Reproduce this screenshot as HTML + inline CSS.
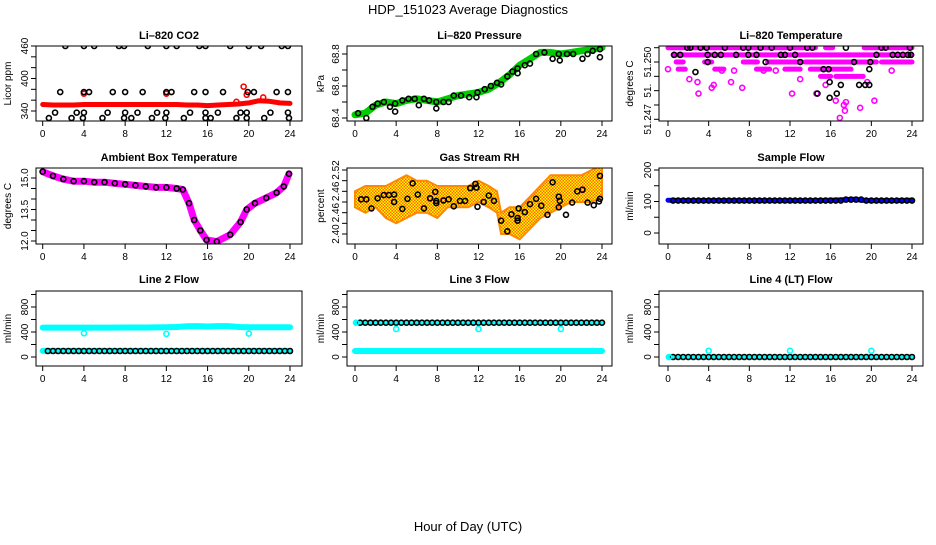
<!DOCTYPE html>
<html><head><meta charset="utf-8">
<style>
html,body{margin:0;padding:0;background:#fff;}
svg text{font-family:"Liberation Sans",sans-serif;}
</style></head>
<body>
<svg id="chart" width="936" height="540" viewBox="0 0 936 540" xmlns="http://www.w3.org/2000/svg">
<text x="468" y="14" text-anchor="middle" font-size="13">HDP_151023  Average Diagnostics</text>
<text x="468" y="531" text-anchor="middle" font-size="13">Hour of Day (UTC)</text>
</svg>
<script>
// ---- x ticks
const xTicks = [0,4,8,12,16,20,24];
// ---- CO2
const co2RedHours = [0,1,2,3,4,5,6,7,8,9,10,11,12,13,14,15,16,17,18,19,20,21,22,23,24];
const co2RedVals = [352,351,351,351,352,352,352,352,352,352,352,352,352,352,351,351,350,351,352,353,355,359,358,355,354];
const co2RedOutX = [4,12,19.5,19.8,21.4,18.8];
const co2RedOutY = [372,372,385,370,365,357];
const co2BlackX = [2.2,4,5,7.4,7.9,10.2,12,13,15.2,15.8,18.2,20,21.2,23.2,23.8,
 1.7,4,4.5,6.8,8,9.7,12,12.5,14.7,15.8,17.5,19.9,20.5,22.7,23.8,
 1.2,3.3,4,6.3,8,9.2,11.1,12,14.3,15.8,17,19.2,19.8,22.1,23.8,
 0.6,2.8,3.9,5.8,7.9,8.6,10.6,11.9,13.7,15.8,16.3,18.8,19.8,21.5,23.9];
const co2BlackY = [460,460,460,460,460,460,460,460,460,460,460,460,460,460,460,
 375,375,375,375,375,375,375,375,375,375,375,375,375,375,375,
 337,337,337,337,337,337,337,337,337,337,337,337,337,337,337,
 327,327,327,327,327,327,327,327,327,327,327,327,327,327,327];
// ---- Pressure
const presHours = [0,1,2,3,4,5,6,7,8,9,10,11,12,13,14,15,16,17,18,19,20,21,22,23,24];
const presVals = [68.42,68.43,68.48,68.50,68.49,68.51,68.52,68.51,68.50,68.52,68.54,68.55,68.56,68.58,68.62,68.67,68.73,68.77,68.81,68.81,68.80,68.81,68.82,68.83,68.84];
const presBlackX = [0.3,1.1,1.7,2.2,2.8,3.4,3.9,3.9,4.6,5.2,5.8,6.2,6.7,7.2,7.9,7.9,8.6,9.1,9.6,10.3,11.1,11.8,11.9,12.6,13.2,13.8,14.2,14.8,15.3,15.8,15.8,16.5,17.0,17.6,18.4,19.2,19.8,19.9,20.6,21.2,22.1,22.6,23.1,23.8,23.8];
const presBlackY = [68.43,68.40,68.47,68.49,68.50,68.47,68.44,68.49,68.51,68.52,68.52,68.48,68.52,68.51,68.46,68.50,68.50,68.50,68.54,68.54,68.53,68.53,68.56,68.58,68.60,68.62,68.61,68.66,68.69,68.71,68.68,68.73,68.74,68.80,68.81,68.77,68.80,68.76,68.80,68.80,68.77,68.80,68.82,68.83,68.78];
// ---- Li-820 temperature
const tempSegStart = [0,15.5,19.3,0.5,0.8,3.6,7.4,9.8,13.5,21,1,4.6,8.7,11.5,14,16.5,15];
const tempSegEnd = [14.5,16.2,24,24,1.5,4.3,8.8,13.2,20.5,24,1.7,5.5,10,13,18,19.2,16];
const tempSegLevel = [51.2495,51.2495,51.2495,51.24925,51.249,51.249,51.249,51.249,51.249,51.249,51.24875,51.24875,51.24875,51.24875,51.24875,51.2485,51.2485];
const tempMagX = [0,2.1,2.9,3.0,4.3,4.5,6.2,7.3,12.2,14.6,15.5,16.5,17.3,17.5,17.4,18.9,20.3,16.9,13,9.4,5.3,6.5,10.6,19.6,22];
const tempMagY = [51.24875,51.2484,51.2483,51.2479,51.2481,51.2482,51.2483,51.2481,51.2479,51.2479,51.2482,51.24765,51.2475,51.2476,51.2473,51.2474,51.24765,51.24705,51.2484,51.2487,51.2487,51.2487,51.2487,51.2483,51.2487];
const tempBlackX = [0.6,1.2,1.9,2.2,3.2,3.8,3.9,3.9,4.6,5.2,5.6,6.7,7.4,7.9,7.9,8.7,9.1,9.6,10.2,11.1,11.5,12,12.5,13,13.7,14.2,14.7,15.3,15.8,15.9,15.9,16.6,17,17.5,18.3,18.8,19.4,19.8,19.8,19.9,20.5,21,21.4,22.1,22.6,23.1,23.6,23.8,23.9,2.7];
const tempBlackY = [51.24925,51.24925,51.2495,51.2495,51.2495,51.2495,51.24925,51.249,51.24925,51.24925,51.2495,51.24925,51.2495,51.2495,51.24925,51.24925,51.2495,51.249,51.2495,51.24925,51.24925,51.2495,51.24925,51.249,51.2495,51.2495,51.2479,51.24875,51.24875,51.24775,51.2483,51.2479,51.2482,51.2495,51.249,51.2482,51.2482,51.2482,51.24875,51.249,51.24925,51.2495,51.2495,51.24925,51.24925,51.24925,51.24925,51.2495,51.24925,51.24865];
// ---- Ambient box temperature
const ambHours = [0,1,2,3,4,5,6,7,8,9,10,11,12,13,13.6,14.2,14.7,15.3,15.9,16.9,18.2,19.2,19.8,20.6,21.7,22.7,23.4,23.9];
const ambVals = [15.3,15.1,14.95,14.85,14.85,14.8,14.8,14.75,14.7,14.65,14.6,14.55,14.55,14.5,14.45,13.8,13.0,12.5,12.05,11.97,12.3,12.9,13.5,13.8,14.05,14.3,14.6,15.2];
// ---- Gas stream RH
const rhHours = [0,1,2,3,4,5,6,7,8,9,10,11,12,13,13.8,14.2,15,16,17,18,19,20,21,22,23,24];
const rhUpper = [2.48,2.49,2.49,2.49,2.50,2.51,2.50,2.50,2.49,2.49,2.49,2.49,2.50,2.49,2.48,2.44,2.45,2.45,2.47,2.49,2.51,2.51,2.51,2.51,2.52,2.53];
const rhLower = [2.45,2.44,2.45,2.43,2.42,2.43,2.44,2.44,2.43,2.45,2.45,2.45,2.46,2.45,2.44,2.40,2.40,2.39,2.41,2.43,2.44,2.45,2.46,2.46,2.46,2.47];
const rhBlackX = [0.6,1.1,1.6,2.2,2.8,3.3,3.8,3.8,4.6,5.1,5.6,6.1,6.7,7.3,7.8,7.9,7.9,8.6,9.1,9.6,10.2,10.7,11.2,11.7,11.8,11.9,12.5,13.0,13.5,14.2,14.8,15.2,15.8,15.8,15.9,16.5,17.0,17.6,18.1,18.7,19.2,19.8,19.8,19.9,20.5,21.1,21.6,22.1,22.6,23.2,23.8,23.8,23.7];
const rhBlackY = [2.465,2.465,2.448,2.467,2.473,2.473,2.474,2.460,2.447,2.466,2.495,2.474,2.448,2.467,2.479,2.458,2.462,2.463,2.465,2.452,2.462,2.462,2.486,2.494,2.487,2.451,2.460,2.472,2.462,2.425,2.405,2.437,2.430,2.425,2.448,2.441,2.456,2.466,2.453,2.436,2.497,2.470,2.450,2.462,2.436,2.459,2.480,2.483,2.459,2.454,2.466,2.509,2.461];
// ---- Flows
const flowHours = [0.5,1,1.5,2,2.5,3,3.5,4,4.5,5,5.5,6,6.5,7,7.5,8,8.5,9,9.5,10,10.5,11,11.5,12,12.5,13,13.5,14,14.5,15,15.5,16,16.5,17,17.5,18,18.5,19,19.5,20,20.5,21,21.5,22,22.5,23,23.5,24];
const sampleHours = [0,2,4,6,8,10,12,14,16,17.5,18.5,19,20,22,24];
const sampleBlue = [104,103,103,103,103,103,103,103,104,106,107,104,103,103,104];
const sampleBlack = [103,103,103,103,103,103,103,103,103,103,103,103,103,103,103,103,103,103,103,103,103,103,103,103,103,103,103,103,103,103,103,103,103,103,106,106,106,106,103,103,103,103,103,103,103,103,103,103];
const line2Hours = [0,2,4,6,8,10,12,13,14,15,16,17,18,19,20,22,24];
const line2CyanHigh = [470,470,470,470,472,472,475,480,492,495,488,494,494,480,476,475,475];
const line2CyanLow = [98,98,98,98,98,98,98,98,98,98,98,98,98,98,98,98,98];
const line2Black = 96;
const line2OutX = [4,12,20];
const line2OutY = [380,370,375];
const line3CyanHours = [0,24];
const line3Cyan = [96,96];
const line3Black = 549;
const line3OutX = [0.1,4,12,20];
const line3OutY = [549,448,448,448];
const line4Cyan = [0,0];
const line4Black = 0;
const line4OutX = [0.1,4,12,20];
const line4OutY = [0,100,100,100];

const svg = document.getElementById('chart');
const NS = 'http://www.w3.org/2000/svg';
function mk(tag, attrs, parent){
  const e = document.createElementNS(NS, tag);
  for (const k in attrs) e.setAttribute(k, attrs[k]);
  (parent||svg).appendChild(e);
  return e;
}
const cols = [{l:36,r:302,x0:42.7,x24:290,yl:11},{l:347,r:612,x0:355,x24:602,yl:324},{l:659,r:923,x0:668,x24:912,yl:633}];
const rows = [{t:46,b:121,title:35},{t:168,b:244,title:157},{t:291,b:366,title:279}];

function panel(ci, ri, name, title, ylab, v0, p0, v1, p1, ticks, labels){
  const c = cols[ci], r = rows[ri];
  const g = mk('g', {});
  
  
  const xs = h => c.x0 + (c.x24 - c.x0) * h / 24;
  const ys = v => p0 + (p1 - p0) * (v - v0) / (v1 - v0);
  const clipId = 'clip' + ci + ri;
  const cp = mk('clipPath', {id: clipId}, g);
  mk('rect', {x:c.l, y:r.t, width:c.r-c.l, height:r.b-r.t}, cp);
  const t = mk('text', {x:(c.l+c.r)/2, y:r.title+4, 'text-anchor':'middle', 'font-size':11, 'font-weight':'bold'}, g);
  t.textContent = title;
  
  
  const cy = (r.t+r.b)/2;
  const yl = mk('text', {x:c.yl, y:cy, 'text-anchor':'middle', 'font-size':10, transform:'rotate(-90 '+c.yl+' '+cy+')'}, g);
  yl.textContent = ylab;
  
  
  // x axis
  const xa = mk('g', {}, g);
  
  
  xTicks.forEach(h => {
    mk('line', {x1:xs(h), x2:xs(h), y1:r.b, y2:r.b+5, stroke:'#000'}, xa);
    const tx = mk('text', {x:xs(h), y:r.b+16, 'text-anchor':'middle', 'font-size':10}, xa);
    tx.textContent = h;
  });
  // y axis
  const ya = mk('g', {}, g);
  
  
  ticks.forEach((v,i) => {
    mk('line', {x1:c.l-5, x2:c.l, y1:ys(v), y2:ys(v), stroke:'#000'}, ya);
    if (labels[i] !== '') {
      const lx = c.l - 8;
      const tx = mk('text', {x:lx, y:ys(v), 'text-anchor':'middle', 'font-size':10, transform:'rotate(-90 '+lx+' '+ys(v)+')'}, ya);
      tx.textContent = labels[i];
    }
  });
  const data = mk('g', {'clip-path':'url(#'+clipId+')'}, g);
  
  
  const box = mk('rect', {x:c.l, y:r.t, width:c.r-c.l, height:r.b-r.t, fill:'none', stroke:'#000', 'stroke-width':1}, g);
  
  
  return {g:data, xs, ys};
}
function line(P, hours, vals, color, w, name){
  const d = hours.map((h,i) => (i?'L':'M') + P.xs(h).toFixed(1) + ' ' + P.ys(vals[i]).toFixed(1)).join(' ');
  const e = mk('path', {d, fill:'none', stroke:color, 'stroke-width':w, 'stroke-linejoin':'round', 'stroke-linecap':'round'}, P.g);
  
  
}
function pts(P, xsA, ysA, color, name, fill){
  const grp = mk('g', {}, P.g);
  
  
  xsA.forEach((h,i) => {
    const y = Array.isArray(ysA) ? ysA[i] : ysA;
    mk('circle', {cx:P.xs(h), cy:P.ys(y), r:2.5, fill:fill||'none', stroke:color, 'stroke-width':1.6}, grp);
  });
}

// Panel 1: CO2
let P = panel(0,0,'co2','Li\u2013820 CO2','Licor ppm',340,111,460,46,[340,360,380,400,420,440,460],['340','','','400','','','460']);
line(P, co2RedHours, co2RedVals, '#f00', 5, 'co2-red-series');
pts(P, co2RedOutX, co2RedOutY, '#f00', 'co2-red-outliers');
pts(P, co2BlackX, co2BlackY, '#000', 'co2-black-points');

// Panel 2: pressure
P = panel(1,0,'pressure','Li\u2013820 Pressure','kPa',68.4,118,68.8,54,[68.4,68.5,68.6,68.7,68.8],['68.4','','68.6','','68.8']);
line(P, presHours, presVals, '#0c0', 7, 'pressure-green-series');
pts(P, presBlackX, presBlackY, '#000', 'pressure-black-points');

// Panel 3: Li-820 temperature
P = panel(2,0,'li820-temp','Li\u2013820 Temperature','degrees C',51.247,119.3,51.2495,47.7,[51.247,51.2475,51.248,51.2485,51.249,51.2495],['51.247','','51.','','51.250','']);
const segG = mk('g', {}, P.g);


tempSegStart.forEach((s,i) => {
  mk('line', {x1:P.xs(s), x2:P.xs(tempSegEnd[i]), y1:P.ys(tempSegLevel[i]), y2:P.ys(tempSegLevel[i]), stroke:'#f0f', 'stroke-width':5, 'stroke-linecap':'round'}, segG);
});
pts(P, tempMagX, tempMagY, '#f0f', 'li820-temp-magenta-points');
pts(P, tempBlackX, tempBlackY, '#000', 'li820-temp-black-points');

// Panel 4: ambient
P = panel(0,1,'ambient-temp','Ambient Box Temperature','degrees C',12,241,15,178,[12,12.5,13,13.5,14,14.5,15],['12.0','','','13.5','','','15.0']);
line(P, ambHours, ambVals, '#f0f', 7, 'ambient-magenta-series');
pts(P, ambHours, ambVals, '#000', 'ambient-black-points');

// Panel 5: RH
P = panel(1,1,'rh','Gas Stream RH','percent',2.40,234,2.52,170,[2.40,2.42,2.44,2.46,2.48,2.50,2.52],['2.40','','2.46','','2.46','','2.52']);
const defs = mk('defs', {}, P.g);
const pat = mk('pattern', {id:'rhpat', width:3, height:3, patternUnits:'userSpaceOnUse'}, defs);
mk('rect', {width:3, height:3, fill:'#f60'}, pat);
mk('rect', {width:1.5, height:1.5, fill:'#ff0'}, pat);
mk('rect', {x:1.5, y:1.5, width:1.5, height:1.5, fill:'#ff0'}, pat);
let dArea = rhHours.map((h,i) => (i?'L':'M') + P.xs(h).toFixed(1) + ' ' + P.ys(rhUpper[i]).toFixed(1)).join(' ');
for (let i = rhHours.length-1; i >= 0; i--) dArea += ' L' + P.xs(rhHours[i]).toFixed(1) + ' ' + P.ys(rhLower[i]).toFixed(1);
const area = mk('path', {d:dArea + ' Z', fill:'url(#rhpat)', stroke:'#f80', 'stroke-width':2}, P.g);


pts(P, rhBlackX, rhBlackY, '#000', 'rh-black-points');

// Panel 6: sample flow
P = panel(2,1,'sample-flow','Sample Flow','ml/min',0,233,200,170,[0,50,100,150,200],['0','','100','','200']);
line(P, sampleHours, sampleBlue, '#00f', 5, 'sample-flow-blue-series');
pts(P, flowHours, sampleBlack, '#000', 'sample-flow-black-points');

const flowTicks = [0,200,400,600,800,1000];
const flowLabels = ['0','','400','','800',''];
// Panel 7: line 2
P = panel(0,2,'line2-flow','Line 2 Flow','ml/min',0,357,800,307,flowTicks,flowLabels);
line(P, line2Hours, line2CyanHigh, '#0ff', 6, 'line2-cyan-high-series');
line(P, line2Hours, line2CyanLow, '#0ff', 6, 'line2-cyan-low-series');
pts(P, flowHours, line2Black, '#000', 'line2-black-points');
pts(P, line2OutX, line2OutY, '#0ff', 'line2-cyan-outliers');

// Panel 8: line 3
P = panel(1,2,'line3-flow','Line 3 Flow','ml/min',0,357,800,307,flowTicks,flowLabels);
line(P, line3CyanHours, line3Cyan, '#0ff', 6, 'line3-cyan-series');
line(P, [0.1,24], [line3Black,line3Black], '#0ff', 5, 'line3-cyan-high-series');
pts(P, flowHours, line3Black, '#000', 'line3-black-points');
pts(P, line3OutX, line3OutY, '#0ff', 'line3-cyan-outliers');

// Panel 9: line 4
P = panel(2,2,'line4-flow','Line 4 (LT) Flow','ml/min',0,357,800,307,flowTicks,flowLabels);
line(P, line3CyanHours, line4Cyan, '#0ff', 5, 'line4-cyan-series');
pts(P, flowHours, line4Black, '#000', 'line4-black-points');
pts(P, line4OutX, line4OutY, '#0ff', 'line4-cyan-outliers');
</script>
</body></html>
